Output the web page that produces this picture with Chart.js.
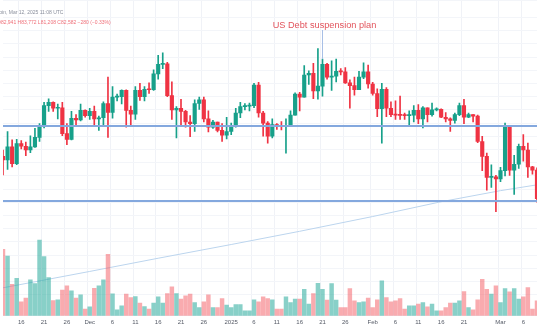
<!DOCTYPE html>
<html>
<head>
<meta charset="utf-8">
<script src="https://cdn.jsdelivr.net/npm/chart.js@4"></script>
<style>
  body { margin: 0; background: #fff; }
  canvas { display: block; }
</style>
</head>
<body>
<canvas id="btcChart" width="540" height="336"></canvas>
<script>
// daily candles, Nov 12 2024 .. Mar 9 2025 (prices in thousand USD)
const dates = [];
for (let d = new Date(Date.UTC(2024, 10, 12)); d <= new Date(Date.UTC(2025, 2, 9)); d.setUTCDate(d.getUTCDate() + 1)) {
  dates.push(d.toISOString().slice(0, 10));
}

const opens = [
  88.7, 88.0, 90.5, 87.3, 91.1, 90.6, 89.9, 90.5, 92.3, 94.3, 98.3, 98.9, 97.8, 97.9, 93.0, 91.9, 95.9, 95.6, 97.4,
  96.4, 97.2, 95.8, 96.0, 98.7, 97.0, 99.9, 100.0, 101.2, 97.4, 96.7, 101.2, 100.0, 101.4, 101.3, 104.3, 106.1, 106.2,
  100.2, 97.5, 97.8, 97.2, 95.2, 94.9, 98.7, 99.4, 95.8, 94.2, 95.2, 93.6, 92.7,
  93.4, 94.4, 96.9, 98.1, 98.2, 98.3, 102.2, 96.9, 95.0, 92.5, 94.7, 94.5, 94.4, 94.5, 96.5, 100.5, 99.9, 104.1,
  104.4, 101.1, 102.0, 106.1, 103.7, 103.9, 104.8, 104.7, 102.6, 102.1, 101.3, 103.7, 104.7,
  102.4, 100.6, 97.7, 101.4, 97.8, 96.6, 96.5, 96.45, 96.4, 96.5, 97.4, 95.8, 97.9, 96.6, 97.5, 97.6, 96.1, 95.8,
  95.5, 96.6, 98.3, 96.1, 96.6, 96.3, 91.5, 88.7, 84.7, 84.8,
  84.4, 86.0, 94.3, 86.1, 87.2, 90.6, 89.9, 86.7, 86.1
];
const highs = [
  89.9, 93.4, 91.8, 91.9, 91.7, 91.4, 92.6, 94.0, 94.9, 98.9, 99.6, 99.0, 98.6, 98.9, 94.9, 97.2, 96.6, 98.6, 97.5,
  97.8, 98.2, 96.3, 99.0, 103.7, 101.9, 100.5, 101.3, 101.3, 98.2, 101.9, 102.5, 101.9, 102.6, 105.1, 107.8, 108.3, 106.5,
  102.8, 98.1, 99.5, 97.4, 96.4, 99.4, 99.9, 99.9, 97.3, 95.5, 95.2, 94.9, 96.1,
  95.0, 97.8, 98.9, 98.7, 98.8, 102.5, 102.7, 97.2, 95.3, 95.8, 94.9, 95.3, 95.8, 97.3, 100.7, 100.8, 105.9, 104.9,
  106.3, 109.1, 107.1, 106.3, 106.8, 107.1, 105.3, 105.5, 103.2, 103.7, 104.8, 106.4, 106.0,
  102.7, 101.5, 102.5, 101.7, 99.0, 99.2, 100.1, 96.9, 97.3, 98.3, 98.5, 98.1, 97.9, 98.8, 97.9, 97.7, 97.0, 96.0,
  96.9, 98.8, 99.5, 96.9, 96.6, 96.5, 92.5, 89.3, 87.1, 85.1,
  86.6, 95.0, 94.4, 88.9, 91.0, 92.8, 91.2, 86.8, 86.5
];
const lows = [
  85.2, 86.2, 86.7, 87.1, 90.1, 88.8, 89.4, 90.4, 91.5, 94.1, 97.2, 97.2, 95.8, 92.6, 90.9, 91.8, 94.7, 95.4, 96.1,
  95.7, 94.4, 93.6, 94.6, 92.3, 95.9, 99.2, 98.6, 94.2, 94.3, 95.7, 99.3, 99.2, 100.6, 101.2, 103.3, 105.3, 100.0,
  95.7, 92.2, 94.3, 94.2, 92.4, 93.4, 97.6, 95.2, 93.3, 94.0, 93.3, 91.5, 92.0,
  92.8, 94.2, 96.0, 97.5, 97.3, 97.9, 96.1, 92.5, 91.2, 92.2, 93.8, 93.7, 89.3, 94.3, 96.5, 97.3, 99.9, 102.3,
  99.6, 99.5, 100.1, 103.3, 101.2, 102.8, 104.1, 102.5, 97.8, 100.3, 101.3, 103.4, 101.6,
  100.3, 96.2, 91.2, 96.2, 96.2, 95.7, 95.7, 95.7, 94.7, 95.2, 94.9, 94.1, 95.2, 96.3, 97.3, 96.0, 95.2, 93.4,
  95.0, 96.4, 94.9, 96.0, 95.2, 91.3, 86.0, 82.3, 82.8, 78.2,
  83.9, 85.0, 85.1, 81.5, 86.4, 87.8, 84.7, 85.3, 80.0
];
const closes = [
  88.0, 90.5, 87.3, 91.1, 90.6, 89.9, 90.5, 92.3, 94.3, 98.3, 98.9, 97.8, 97.9, 93.0, 91.9, 95.9, 95.6, 97.4, 96.4,
  97.2, 95.8, 96.0, 98.7, 97.0, 99.9, 100.0, 101.2, 97.4, 96.7, 101.2, 100.0, 101.4, 101.3, 104.3, 106.1, 106.2, 100.2,
  97.5, 97.8, 97.2, 95.2, 94.9, 98.7, 99.4, 95.8, 94.2, 95.2, 93.6, 92.7, 93.4,
  94.4, 96.9, 98.1, 98.2, 98.3, 102.2, 96.9, 95.0, 92.5, 94.7, 94.5, 94.4, 94.5, 96.5, 100.5, 99.9, 104.1, 104.4,
  101.1, 102.0, 106.1, 103.7, 103.9, 104.8, 104.7, 102.6, 102.1, 101.3, 103.7, 104.7, 102.4,
  100.6, 97.7, 101.4, 97.8, 96.6, 96.5, 96.45, 96.4, 96.5, 97.4, 95.8, 97.9, 96.6, 97.5, 97.6, 96.1, 95.8, 95.5,
  96.6, 98.3, 96.1, 96.6, 96.3, 91.5, 88.7, 84.7, 84.8, 84.4,
  86.0, 94.3, 86.1, 87.2, 90.6, 89.9, 86.7, 86.1, 80.7
];
const volumes = [
  200, 180, 95, 113, 42, 53, 108, 97, 228, 178, 115, 46, 48, 77, 90, 75, 53, 63, 20,
  27, 83, 90, 108, 185, 66, 18, 30, 65, 55, 58, 38, 28, 20, 38, 57, 38, 67,
  87, 67, 50, 60, 65, 40, 25, 42, 63, 25, 25, 52, 32,
  25, 34, 34, 15, 15, 48, 42, 57, 52, 48, 20, 20, 57, 40, 50, 50, 80, 35,
  67, 98, 80, 47, 97, 47, 25, 25, 82, 45, 40, 42, 53,
  25, 48, 105, 55, 42, 45, 52, 20, 30, 30, 35, 40, 27, 35, 15, 15, 25, 38,
  38, 45, 73, 25, 18, 48, 110, 80, 65, 90,
  40, 82, 72, 82, 50, 57, 85, 20, 45
];

// 200-day moving average, read at a few dates
const maDates = ['2024-11-12', '2024-12-01', '2024-12-16', '2025-01-01', '2025-01-16', '2025-02-01', '2025-02-16', '2025-03-01', '2025-03-09'];
const maValues = [63.8, 66.9, 69.4, 72.0, 74.5, 77.3, 80.1, 82.2, 83.3];

// horizontal support / resistance levels
const levels = [94.4, 80.3];

// time axis labels
const tickDates = ['2024-11-16', '2024-11-21', '2024-11-26', '2024-12-01', '2024-12-06', '2024-12-11', '2024-12-16',
  '2024-12-21', '2024-12-26', '2025-01-01', '2025-01-06', '2025-01-11', '2025-01-16', '2025-01-21', '2025-01-26',
  '2025-02-01', '2025-02-06', '2025-02-11', '2025-02-16', '2025-02-21', '2025-03-01', '2025-03-06'];
const tickTexts = ['16', '21', '26', 'Dec', '6', '11', '16', '21', '26', '2025', '6', '11', '16', '21', '26',
  'Feb', '6', '11', '16', '21', 'Mar', '6'];

const noteText = 'US Debt suspension plan';
const noteDate = '2025-01-21';

const UP = '#17a08a', DOWN = '#ef3343';
const UP_VOL = 'rgba(38,170,155,0.55)', DOWN_VOL = 'rgba(244,88,96,0.5)';

const isUp = dates.map((d, i) => closes[i] >= opens[i]);
const maData = dates.map(d => {
  const k = maDates.indexOf(d);
  return k >= 0 ? maValues[k] : null;
});

const overlay = {
  id: 'overlay',
  afterDatasetsDraw(chart) {
    const { ctx, chartArea, scales } = chart;
    ctx.save();
    ctx.beginPath();
    ctx.rect(chartArea.left, chartArea.top, chartArea.width, chartArea.height);
    ctx.clip();

    // level lines
    ctx.strokeStyle = '#84a8de';
    ctx.lineWidth = 2;
    levels.forEach(v => {
      const y = Math.round(scales.y.getPixelForValue(v));
      ctx.beginPath();
      ctx.moveTo(chartArea.left, y);
      ctx.lineTo(chartArea.right, y);
      ctx.stroke();
    });

    // annotation
    const i = dates.indexOf(noteDate);
    const x = Math.round(scales.x.getPixelForValue(i)) + 0.5;
    ctx.strokeStyle = '#a8bfe6';
    ctx.lineWidth = 1;
    ctx.beginPath();
    ctx.moveTo(x, 30);
    ctx.lineTo(x, scales.y.getPixelForValue(highs[i]));
    ctx.stroke();
    ctx.fillStyle = '#e2545c';
    ctx.font = '9.2px "Liberation Sans", Arial, sans-serif';
    ctx.textAlign = 'center';
    ctx.textBaseline = 'alphabetic';
    ctx.fillText(noteText, x + 2, 28);
    ctx.restore();
  },
  afterDraw(chart) {
    const { ctx } = chart;
    ctx.save();
    ctx.font = '5px "Liberation Sans", Arial, sans-serif';
    ctx.textBaseline = 'middle';
    ctx.fillStyle = '#8a8f9c';
    ctx.fillText('Bitcoin, Mar 12, 2025 11:08 UTC', -9, 13);
    ctx.fillStyle = '#ef6f78';
    ctx.fillText('O82,941 H83,772 L81,208 C82,582 \u2212280 (\u22120.33%)', -3, 23);
    ctx.restore();
  }
};

const ctx = document.getElementById('btcChart').getContext('2d');
new Chart(ctx, {
  type: 'bar',
  data: {
    labels: dates,
    datasets: [
      {
        type: 'line',
        label: 'MA 200',
        data: maData,
        yAxisID: 'y',
        borderColor: '#bcd5ee',
        borderWidth: 1,
        pointRadius: 0,
        spanGaps: true,
        tension: 0,
        order: 4
      },
      {
        label: 'Volume',
        data: volumes,
        yAxisID: 'yVol',
        backgroundColor: isUp.map(u => u ? UP_VOL : DOWN_VOL),
        barThickness: 3.8,
        grouped: false,
        order: 3
      },
      {
        label: 'Wick',
        data: dates.map((d, i) => [lows[i], highs[i]]),
        yAxisID: 'y',
        backgroundColor: isUp.map(u => u ? UP : DOWN),
        barThickness: 1,
        grouped: false,
        order: 2
      },
      {
        label: 'Body',
        data: dates.map((d, i) => [opens[i], closes[i]]),
        yAxisID: 'y',
        backgroundColor: isUp.map(u => u ? UP : DOWN),
        barThickness: 3.5,
        minBarLength: 1,
        grouped: false,
        order: 1
      }
    ]
  },
  options: {
    responsive: false,
    animation: false,
    layout: { padding: { left: 0, right: 0, top: 0, bottom: 7 } },
    plugins: {
      legend: { display: false },
      tooltip: { enabled: false }
    },
    scales: {
      x: {
        offset: false,
        border: { display: false },
        grid: {
          drawTicks: false,
          color: c => (c.tick && tickDates.includes(dates[c.tick.value])) ? '#f0f2f7' : 'rgba(0,0,0,0)'
        },
        ticks: {
          autoSkip: false,
          maxRotation: 0,
          padding: 3,
          color: '#555a66',
          font: { size: 6, family: 'Liberation Sans' },
          callback: (v, i) => {
            const k = tickDates.indexOf(dates[v]);
            return k >= 0 ? tickTexts[k] : '';
          }
        }
      },
      y: {
        position: 'right',
        min: 58.5,
        max: 118.3,
        border: { display: false },
        grid: { drawTicks: false, color: '#f3f5f9' },
        ticks: { display: false, stepSize: 2.5 }
      },
      yVol: {
        display: false,
        min: 0,
        max: 950
      }
    }
  },
  plugins: [overlay]
});
</script>
</body>
</html>
